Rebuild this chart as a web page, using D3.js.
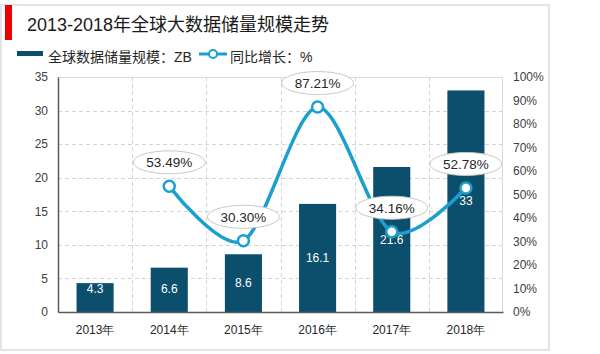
<!DOCTYPE html>
<html>
<head>
<meta charset="utf-8">
<script src="https://cdn.jsdelivr.net/npm/d3@7"></script>
<style>
    body { margin: 0; background: #fff; }
    svg { display: block; font-family: 'Liberation Sans', Arial, 'Noto Sans CJK SC', sans-serif; }
</style>
</head>
<body>
<script>

const years = ['2013年', '2014年', '2015年', '2016年', '2017年', '2018年']
const storage = [4.3, 6.6, 8.6, 16.1, 21.6, 33]
const growth = [null, 53.49, 30.30, 87.21, 34.16, 52.78]
const leftTicks = [0, 5, 10, 15, 20, 25, 30, 35]
const rightTicks = [0, 10, 20, 30, 40, 50, 60, 70, 80, 90, 100]

const renderChart = () => {

    const w = 600
    const h = 354
    const barColor = '#0b4f6c'
    const lineColor = '#1a9fd0'

    const svg = d3.select('body')
        .append('svg')
            .attr('width', w)
            .attr('height', h)

    // Frame + title

    svg.append('rect')
        .attr('x', 1)
        .attr('y', 5)
        .attr('width', 548)
        .attr('height', 345)
        .attr('fill', 'none')
        .attr('stroke', '#e4e4e4')
        .attr('stroke-width', 2)

    svg.append('rect')
        .attr('x', 5)
        .attr('y', 5)
        .attr('width', 7)
        .attr('height', 35)
        .attr('fill', '#ee0000')

    svg.append('text')
        .attr('x', 27)
        .attr('y', 31)
        .attr('font-size', 18)
        .attr('fill', '#1a1a1a')
        .text('2013-2018年全球大数据储量规模走势')

    // Legend

    const legend = svg.append('g')

    legend.append('rect')
        .attr('x', 17)
        .attr('y', 51)
        .attr('width', 26)
        .attr('height', 5)
        .attr('fill', barColor)

    legend.append('text')
        .attr('x', 48)
        .attr('y', 62)
        .attr('font-size', 14)
        .attr('fill', '#262626')
        .text('全球数据储量规模：ZB')

    legend.append('line')
        .attr('x1', 199)
        .attr('x2', 227)
        .attr('y1', 54)
        .attr('y2', 54)
        .attr('stroke', lineColor)
        .attr('stroke-width', 3)

    legend.append('circle')
        .attr('cx', 213)
        .attr('cy', 54)
        .attr('r', 4)
        .attr('fill', '#fff')
        .attr('stroke', lineColor)
        .attr('stroke-width', 2)

    legend.append('text')
        .attr('x', 230)
        .attr('y', 62)
        .attr('font-size', 14)
        .attr('fill', '#262626')
        .text('同比增长：%')

    // Scales

    const left = 58
    const right = 503
    const top = 77
    const bottom = 312

    const xScale = d3.scaleBand()
        .domain(years)
        .range([left, right])
        .paddingInner(0.5)
        .paddingOuter(0.25)

    const bandStep = (right - left) / years.length

    const yScale = d3.scaleLinear()
        .domain([0, 35])
        .range([bottom, top])

    const y2Scale = d3.scaleLinear()
        .domain([0, 100])
        .range([bottom, top])

    // Grid

    svg.append('g')
        .selectAll('line')
        .data(leftTicks.filter(t => t > 0 && t < 35))
        .enter()
        .append('line')
            .attr('x1', left)
            .attr('x2', right)
            .attr('y1', d => Math.round(yScale(d)) + 0.5)
            .attr('y2', d => Math.round(yScale(d)) + 0.5)
            .attr('stroke', '#d4d4d4')
            .attr('stroke-dasharray', '4,3')

    svg.append('g')
        .selectAll('line')
        .data(years.slice(1))
        .enter()
        .append('line')
            .attr('x1', (d, i) => Math.round(left + bandStep * (i + 1)) + 0.5)
            .attr('x2', (d, i) => Math.round(left + bandStep * (i + 1)) + 0.5)
            .attr('y1', top)
            .attr('y2', bottom)
            .attr('stroke', '#d4d4d4')
            .attr('stroke-dasharray', '4,3')

    svg.append('path')
        .attr('d', `M${left},${top + 0.5}H${right - 0.5}V${bottom}`)
        .attr('fill', 'none')
        .attr('stroke', '#d9d9d9')

    // Bars

    svg.selectAll('.bar')
        .data(storage)
        .enter()
        .append('rect')
            .attr('class', 'bar')
            .attr('x', (d, i) => xScale(years[i]))
            .attr('y', d => yScale(d))
            .attr('width', xScale.bandwidth())
            .attr('height', d => bottom - yScale(d))
            .attr('fill', barColor)

    // labels sit mid-bar, but never lower than a fixed line near the base
    svg.selectAll('.bar-label')
        .data(storage)
        .enter()
        .append('text')
            .attr('class', 'bar-label')
            .attr('x', (d, i) => xScale(years[i]) + xScale.bandwidth() / 2)
            .attr('y', d => Math.min((yScale(d) + bottom) / 2, bottom - 23))
            .attr('dy', '0.35em')
            .attr('text-anchor', 'middle')
            .attr('font-size', 12)
            .attr('fill', '#fff')
            .text(d => d)

    // Axes

    const yAxis = d3.axisLeft(yScale)
        .tickValues(leftTicks)
        .tickSize(0)
        .tickPadding(10)

    svg.append('g')
        .attr('transform', `translate(${left}, 0)`)
        .call(yAxis)
        .call(g => g.select('.domain').attr('stroke', '#595959').attr('stroke-width', 1.5))
        .call(g => g.selectAll('text').attr('font-size', 12).attr('fill', '#404040').attr('font-family', null))

    const y2Axis = d3.axisRight(y2Scale)
        .tickValues(rightTicks)
        .tickSize(0)
        .tickPadding(10)
        .tickFormat(d => d + '%')

    svg.append('g')
        .attr('transform', `translate(${right}, 0)`)
        .call(y2Axis)
        .call(g => g.select('.domain').remove())
        .call(g => g.selectAll('text').attr('font-size', 12).attr('fill', '#404040').attr('font-family', null))

    const xAxis = d3.axisBottom(xScale)
        .tickSize(0)
        .tickPadding(13)

    svg.append('g')
        .attr('transform', `translate(0, ${bottom})`)
        .call(xAxis)
        .call(g => g.select('.domain').attr('stroke', '#595959').attr('stroke-width', 1.5))
        .call(g => g.selectAll('text').attr('font-size', 12).attr('fill', '#262626').attr('font-family', null))

    // Growth line

    const points = growth
        .map((d, i) => ({ year: years[i], value: d }))
        .filter(d => d.value !== null)

    const cx = d => xScale(d.year) + xScale.bandwidth() / 2
    const cy = d => y2Scale(d.value)

    const line = d3.line()
        .x(cx)
        .y(cy)
        .curve(d3.curveCardinal.tension(0.1))

    svg.append('path')
        .datum(points)
        .attr('d', line)
        .attr('fill', 'none')
        .attr('stroke', lineColor)
        .attr('stroke-width', 3.5)

    svg.selectAll('.marker')
        .data(points)
        .enter()
        .append('circle')
            .attr('class', 'marker')
            .attr('cx', cx)
            .attr('cy', cy)
            .attr('r', 5.5)
            .attr('fill', '#fff')
            .attr('stroke', lineColor)
            .attr('stroke-width', 2.5)

    const labels = svg.selectAll('.growth-label')
        .data(points)
        .enter()
        .append('g')
            .attr('class', 'growth-label')
            .attr('transform', d => `translate(${cx(d)}, ${cy(d) - 24})`)

    labels.append('ellipse')
        .attr('rx', 36)
        .attr('ry', 11.5)
        .attr('fill', '#fff')
        .attr('stroke', '#c8c8c8')

    labels.append('text')
        .attr('text-anchor', 'middle')
        .attr('dy', '0.36em')
        .attr('font-size', 13.5)
        .attr('fill', '#262626')
        .text(d => d.value.toFixed(2) + '%')
}

renderChart()

</script>
</body>
</html>
